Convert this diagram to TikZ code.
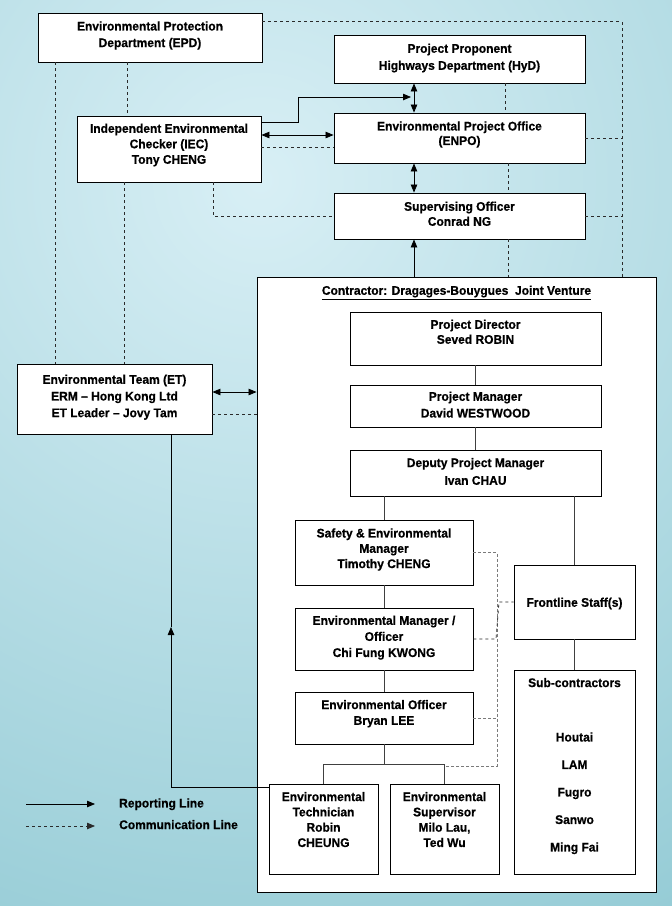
\documentclass[tikz,border=0pt]{standalone}
\usepackage{fontspec}
\setmainfont{Liberation Sans}[BoldFeatures={FakeBold=0.6,FakeStretch=0.96}]
\usetikzlibrary{arrows.meta}
\definecolor{bgin}{HTML}{D8EFF5}
\definecolor{bgout}{HTML}{94CBD5}
\definecolor{dline}{HTML}{2A2A2A}
\definecolor{gline}{HTML}{7A7A7A}
\definecolor{iline}{HTML}{404040}
\tikzset{
  box/.style={draw=black, fill=white, line width=0.9pt, inner sep=0pt},
  txt/.style={font=\fontsize{12.5}{#1}\selectfont\bfseries, align=center, inner sep=0pt, anchor=north},
  txt/.default=16,
  comm/.style={draw=dline, line width=0.8pt, dash pattern=on 3pt off 3pt},
  gcomm/.style={draw=gline, line width=0.8pt, dash pattern=on 3pt off 2pt},
  rline/.style={draw=black, line width=0.8pt},
  iln/.style={draw=iline, line width=0.8pt},
}
\begin{document}
\begin{tikzpicture}[x=1pt,y=-1pt,>={Triangle[length=8pt,width=6.5pt]}]
\useasboundingbox (0,0) rectangle (672,906);
\begin{scope}
  \clip (0,0) rectangle (672,906);
  \shade[inner color=bgin, outer color=bgout] (260,180) circle (860pt);
\end{scope}

% x-only helper coordinates
\coordinate (xR) at (622,0);
\coordinate (xM1) at (505,0);
\coordinate (xM2) at (508,0);
\coordinate (xL1) at (55,0);
\coordinate (xL2) at (127,0);
\coordinate (xL3) at (124,0);
\coordinate (xL4) at (213,0);
\coordinate (xA) at (414,0);
\coordinate (bend) at (298,97);
\coordinate (hypt) at (411,97);
\coordinate (etArr) at (171,627);
\coordinate (jn) at (384,764);
\coordinate (gb) at (497,766);
\coordinate (k1) at (496,639);
\coordinate (k2) at (499,602);

% boxes
\node[box, minimum width=399pt, minimum height=615pt] (ctr) at (456.5,584.5) {};
\node[box, minimum width=224pt, minimum height=49pt] (epd) at (150,37.5) {};
\node[box, minimum width=251pt, minimum height=48pt] (hyd) at (459.5,59) {};
\node[box, minimum width=184pt, minimum height=66pt] (iec) at (169,149) {};
\node[box, minimum width=251pt, minimum height=50pt] (enpo) at (459.5,138) {};
\node[box, minimum width=251pt, minimum height=46pt] (so) at (459.5,216) {};
\node[box, minimum width=195pt, minimum height=70pt] (et) at (114.5,399) {};
\node[box, minimum width=251pt, minimum height=53pt] (pd) at (475.5,338.5) {};
\node[box, minimum width=251pt, minimum height=42pt] (pm) at (475.5,406) {};
\node[box, minimum width=251pt, minimum height=46pt] (dpm) at (475.5,473) {};
\node[box, minimum width=178pt, minimum height=65pt] (sem) at (384,552.5) {};
\node[box, minimum width=178pt, minimum height=62pt] (emo) at (384,639) {};
\node[box, minimum width=178pt, minimum height=52pt] (eo) at (384,718) {};
\node[box, minimum width=109pt, minimum height=90pt] (tech) at (323.5,829) {};
\node[box, minimum width=109pt, minimum height=90pt] (sup) at (444.5,829) {};
\node[box, minimum width=121pt, minimum height=74pt] (front) at (574.5,602) {};
\node[box, minimum width=121pt, minimum height=204pt] (sub) at (574.5,772) {};

% texts
\node[txt=16.6] (epdT) at (150,21.2) {Environmental Protection\\Department (EPD)};
\node[txt=17] (hydT) at (459.5,43.5) {Project Proponent\\Highways Department (HyD)};
\node[txt=15.5] (iecT) at (169,123.5) {Independent Environmental\\Checker (IEC)\\Tony CHENG};
\node[txt=14.5] (enpoT) at (459.5,121.2) {Environmental Project Office\\(ENPO)};
\node[txt=15] (soT) at (459.5,201.5) {Supervising Officer\\Conrad NG};
\node[txt] (ctrT) at (456.5,285.5) {\underline{Contractor: Dragages-Bouygues\ \ Joint Venture}};
\node[txt=15] (pdT) at (475.5,319.5) {Project Director\\Seved ROBIN};
\node[txt=16.7] (pmT) at (475.5,391.5) {Project Manager\\David WESTWOOD};
\node[txt=17.7] (dpmT) at (475.5,457.8) {Deputy Project Manager\\Ivan CHAU};
\node[txt=16.7] (etT) at (114.5,374.5) {Environmental Team (ET)\\ERM -- Hong Kong Ltd\\ET Leader -- Jovy Tam};
\node[txt=15.3] (semT) at (384,528.2) {Safety \& Environmental\\Manager\\Timothy CHENG};
\node[txt=16.1] (emoT) at (384,615.5) {Environmental Manager /\\Officer\\Chi Fung KWONG};
\node[txt=15.7] (eoT) at (384,699.8) {Environmental Officer\\Bryan LEE};
\node[txt=15.3] (techT) at (323.5,791.8) {Environmental\\Technician\\Robin\\CHEUNG};
\node[txt=15.3] (supT) at (444.5,791.8) {Environmental\\Supervisor\\Milo Lau,\\Ted Wu};
\node[txt] (frontT) at (574.5,597.5) {Frontline Staff(s)};
\node[txt] (subT) at (574.5,677.8) {Sub-contractors};
\node[txt=27.5] (subL) at (574.5,732.2) {Houtai\\LAM\\Fugro\\Sanwo\\Ming Fai};

% outer communication lines
\draw[comm] ([yshift=-9pt]epd.north east) -| (ctr.north -| xR);
\draw[comm] (enpo.east) -- (enpo.east -| xR);
\draw[comm] (so.east) -- (so.east -| xR);
\draw[comm] (hyd.south -| xM1) -- (enpo.north -| xM1);
\draw[comm] (enpo.south -| xM2) -- (so.north -| xM2);
\draw[comm] (so.south -| xM2) -- (ctr.north -| xM2);
\draw[comm] (epd.south -| xL1) -- (et.north -| xL1);
\draw[comm] (epd.south -| xL2) -- (iec.north -| xL2);
\draw[comm] (iec.south -| xL3) -- (et.north -| xL3);
\draw[comm] (iec.south -| xL4) |- (so.west);
\draw[comm] ([yshift=2pt]iec.east) -- ([yshift=2pt]iec.east -| enpo.west);
\draw[comm] ([yshift=-15pt]et.east) -- ([yshift=-15pt]et.east -| ctr.west);

% reporting lines
\draw[rline,->] ([yshift=-7pt]iec.north east) -| (bend) -- (hypt);
\draw[rline,<->] (hyd.south -| xA) -- (enpo.north -| xA);
\draw[rline,<->] (enpo.south -| xA) -- (so.north -| xA);
\draw[rline,->] (ctr.north -| xA) -- (so.south -| xA);
\draw[rline,<->] ([yshift=14pt]iec.east) -- ([yshift=14pt]iec.east -| enpo.west);
\draw[rline,<->] ([yshift=7pt]et.east) -- ([yshift=7pt]et.east -| ctr.west);
\draw[rline,->] ([yshift=-4pt]tech.north west) -| (etArr);
\draw[rline] (etArr) -- (etArr |- et.south);

% internal hierarchy
\draw[iln] (pd.south) -- (pm.north);
\draw[iln] (pm.south) -- (dpm.north);
\draw[iln] (dpm.south -| sem.north) -- (sem.north);
\draw[iln] (dpm.south -| front.north) -- (front.north);
\draw[iln] (sem.south) -- (emo.north);
\draw[iln] (emo.south) -- (eo.north);
\draw[iln] (front.south) -- (sub.north);
\draw[iln] (eo.south) -- (jn);
\draw[iln] (tech.north) |- (jn) -| (sup.north);

% internal communication lines
\draw[gcomm] (sem.east) -| (gb) -- (gb -| sup.north);
\draw[gcomm] (eo.east) -- (eo.east -| gb);
\draw[comm] (emo.east) -- (k1) -- (k2) -- (front.west);

% legend
\coordinate (l1a) at (26,804);
\coordinate (l1b) at (95,804);
\coordinate (l2a) at (26,826);
\coordinate (l2b) at (95,826);
\draw[rline,->] (l1a) -- (l1b);
\draw[comm,->] (l2a) -- (l2b);
\node[txt, anchor=north west] (legR) at (119,798.2) {Reporting Line};
\node[txt, anchor=north west] (legC) at (119,819.8) {Communication Line};
\end{tikzpicture}
\end{document}
